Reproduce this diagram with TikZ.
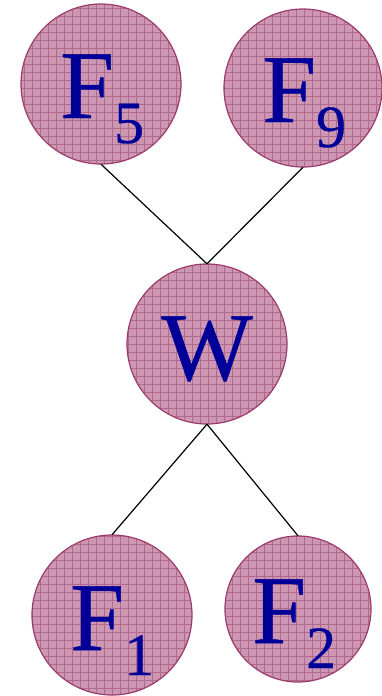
\documentclass[tikz,border=0pt]{standalone}
\usepackage{fontspec}
\setmainfont[FakeBold=0.5]{Liberation Serif}
\definecolor{ballfill}{HTML}{CD97B3}
\definecolor{gridc}{HTML}{B06A8E}
\definecolor{ballline}{HTML}{9B3A6B}
\definecolor{txt}{HTML}{000099}
\newcommand{\ballsub}[2]{#1\raisebox{-25pt}{\fontsize{60}{60}\selectfont #2}}
\begin{document}
\begin{tikzpicture}[x=1pt,y=-1pt,
  ball/.style={circle,minimum size=#1,inner sep=0pt},
  lbl/.style={text=txt,font=\fontsize{97}{97}\selectfont,inner sep=0pt},
  link/.style={black,line width=1.2pt}]
\useasboundingbox (0,0) rectangle (381,696);
\def\drawball#1#2#3#4{%
  \begin{scope}
    \clip (#2,#3) circle (#4);
    \fill[ballfill] (#2,#3) circle (#4);
    \draw[gridc,line width=0.6pt,step=8pt] (#2-#4-1,#3-#4-1) grid (#2+#4+1,#3+#4+1);
  \end{scope}
  \draw[ballline,line width=1.2pt] (#2,#3) circle (#4);
  \node[ball=#4*2pt] (#1) at (#2,#3) {};
}
\drawball{f5}{101}{84}{80}
\drawball{f9}{303}{88}{79}
\drawball{w}{207}{344}{80}
\drawball{f1}{112}{615}{80}
\drawball{f2}{298}{609}{73}
\node[lbl,anchor=base west] (t5) at (60,118) {\ballsub{F}{5}};
\node[lbl,anchor=base west] (t9) at (262,122) {\ballsub{F}{9}};
\node[lbl,anchor=base] (tw) at (207,380) {W};
\node[lbl,anchor=base west] (t1) at (70,650) {\ballsub{F}{1}};
\node[lbl,anchor=base west] (t2) at (252,643) {\ballsub{F}{2}};
\draw[link] (f5.south) -- (w.north);
\draw[link] (f9.south) -- (w.north);
\draw[link] (w.south) -- (f1.north);
\draw[link] (w.south) -- (f2.north);
\end{tikzpicture}
\end{document}
